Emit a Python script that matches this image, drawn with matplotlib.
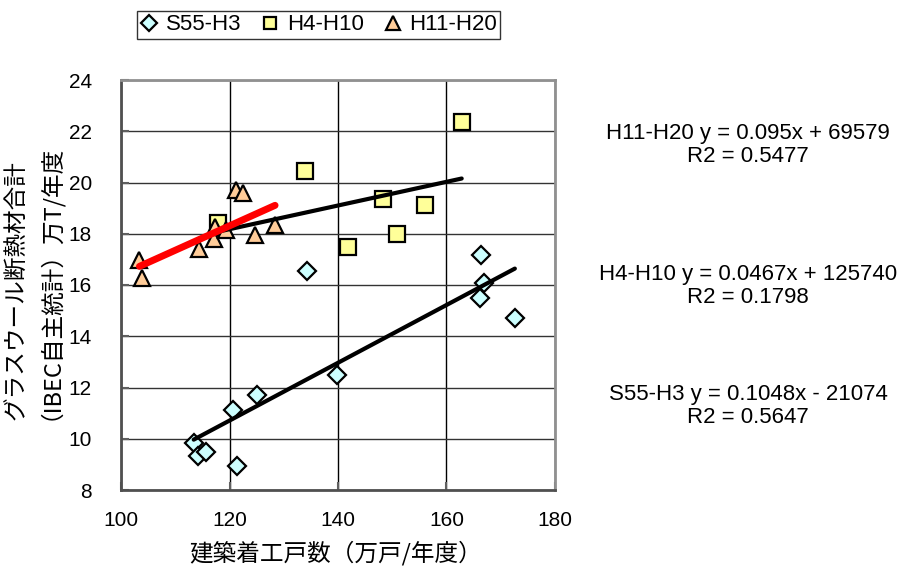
import numpy as np
import matplotlib
matplotlib.use('Agg')
import matplotlib.pyplot as plt

plt.rcParams['font.family'] = ['Liberation Sans', 'Noto Sans CJK JP', 'DejaVu Sans']

# data (x: 万戸/年度, y: 万T/年度)
s55_x = [113.4, 114.2, 115.7, 120.6, 121.4, 125.0, 139.8, 134.3, 166.3, 166.9, 166.1, 172.6]
s55_y = [9.83, 9.33, 9.48, 11.12, 8.94, 11.71, 12.49, 16.55, 17.17, 16.08, 15.49, 14.71]

h4_x = [117.9, 133.9, 141.8, 148.3, 150.8, 156.0, 162.8]
h4_y = [18.41, 20.45, 17.48, 19.36, 17.99, 19.12, 22.36]

h11_x = [103.4, 103.8, 114.4, 117.2, 117.3, 119.3, 121.2, 122.5, 124.7, 128.4]
h11_y = [16.99, 16.26, 17.39, 17.78, 18.28, 18.15, 19.71, 19.58, 17.95, 18.34]

labels = ['S55-H3', 'H4-H10', 'H11-H20']
eq_texts = ['S55-H3 y = 0.1048x - 21074\nR2 = 0.5647',
            'H4-H10 y = 0.0467x + 125740\nR2 = 0.1798',
            'H11-H20 y = 0.095x + 69579\nR2 = 0.5477']

fig = plt.figure(figsize=(9.14, 5.67), dpi=100)
ax = fig.add_axes([121/914, 1-490/567, (555-121)/914, (490-80)/567])

ax.set_xlim(100, 180)
ax.set_ylim(8, 24)
ax.set_xticks([100, 120, 140, 160, 180])
ax.set_yticks(np.arange(8, 25, 2))
ax.grid(axis='x', color='black', lw=1.0)
ax.grid(axis='y', color='#333333', lw=1.0)
ax.set_axisbelow(True)
for s in ['top', 'right']:
    ax.spines[s].set_color('#909090')
    ax.spines[s].set_linewidth(2)
for s in ['left', 'bottom']:
    ax.spines[s].set_color('#505050')
    ax.spines[s].set_linewidth(2)
ax.tick_params(direction='in', length=6, width=1.5, color='#606060', labelsize=15)
ax.tick_params(axis='x', pad=15)
ax.tick_params(axis='y', pad=21)

h1, = ax.plot(s55_x, s55_y, 'D', ms=9, mfc='#ccffff', mec='black', mew=1.6, ls='none', label=labels[0], zorder=3)
h2, = ax.plot(h4_x, h4_y, 's', ms=11, mfc='#ffff99', mec='black', mew=1.6, ls='none', label=labels[1], zorder=3)
h3, = ax.plot(h11_x, h11_y, '^', ms=12, mfc='#ffcc99', mec='black', mew=1.6, ls='none', label=labels[2], zorder=3)

# linear trend lines
for xs, ys, c, w in [(s55_x, s55_y, 'black', 3), (h4_x, h4_y, 'black', 3), (h11_x, h11_y, 'red', 5)]:
    k, b = np.polyfit(xs, ys, 1)
    xx = np.array([min(xs), max(xs)])
    ax.plot(xx, k*xx + b, color=c, lw=w, solid_capstyle='round', zorder=4)

jp = ['Noto Sans CJK JP']
fig.text(336/914, 1-553/567, '建築着工戸数（万戸/年度）', ha='center', va='center', fontsize=17, family=jp)
fig.text(28/914, 1-420/567, 'グラスウール断熱材合計\n（IBEC自主統計）万T/年度', rotation=90,
         ha='center', va='bottom', multialignment='left', linespacing=0.85, fontsize=17, family=jp)

for t, yc in zip(eq_texts, [406, 286, 145]):
    fig.text(748/914, 1-yc/567, t, ha='center', va='center', fontsize=16, linespacing=1.15)

leg = fig.legend(handles=[h1, h2, h3], loc='upper left', bbox_to_anchor=(137/914, 1-11/567),
                 ncol=3, fontsize=16, frameon=True, fancybox=False, edgecolor='black',
                 handlelength=0.8, handletextpad=0.35, columnspacing=0.9, borderpad=0.15,
                 markerscale=0.85, borderaxespad=0)
leg.get_frame().set_linewidth(1.0)

plt.savefig('out.png', dpi=100)
